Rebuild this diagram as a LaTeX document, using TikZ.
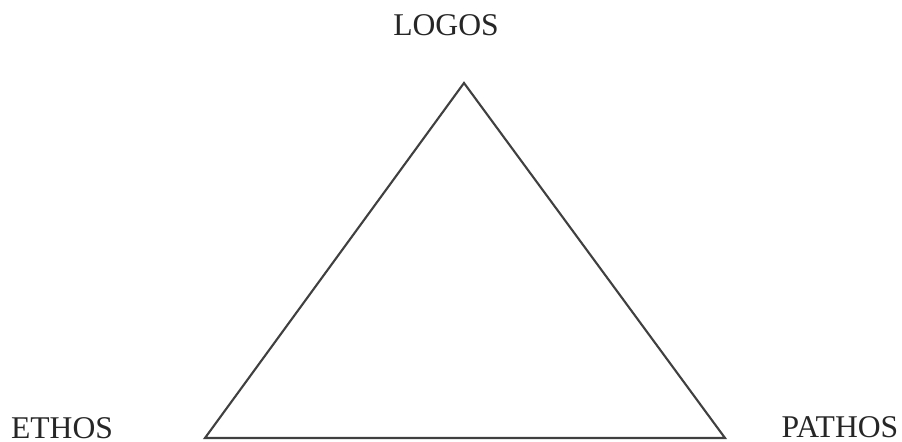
\documentclass[tikz,border=0pt]{standalone}
\usepackage{fontspec}
\setmainfont{Liberation Serif}
\usepackage{tikz}
\usetikzlibrary{positioning}
\tikzstyle{label} = [inner sep=0pt, anchor=base, font=\fontsize{9}{11}\selectfont, text=black!85]
\tikzstyle{side} = [line width=0.6pt, draw=black!75, line join=miter]

\begin{document}
\begin{tikzpicture}
    \useasboundingbox (0,0) rectangle (9.02,4.42);
    \coordinate (top) at (4.64,3.59);
    \coordinate (left) at (2.05,0.04);
    \coordinate (right) at (7.25,0.04);
    \draw[side] (top) -- (left) -- (right) -- cycle;
    \node[label] (logos) at (4.46,4.06) {LOGOS};
    \node[label] (ethos) at (0.62,0.03) {ETHOS};
    \node[label] (pathos) at (8.40,0.04) {PATHOS};
  \end{tikzpicture}
\end{document}
